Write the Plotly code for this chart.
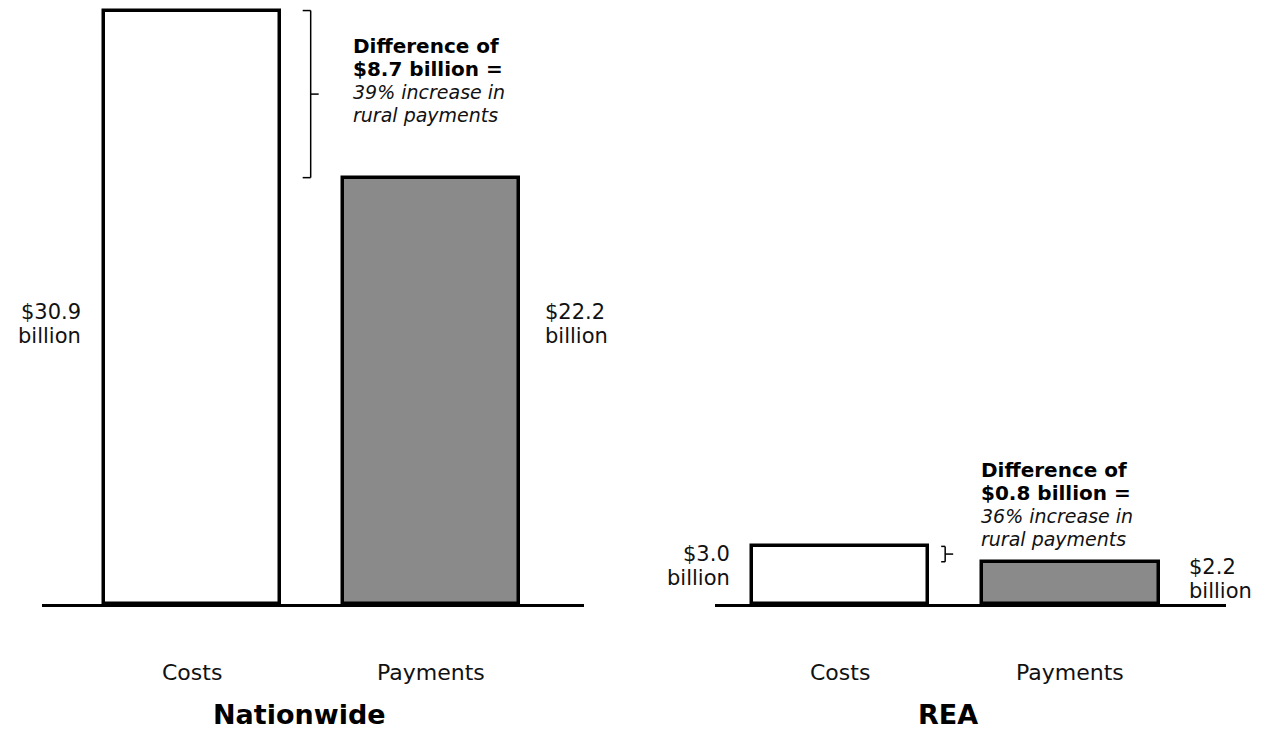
import plotly.graph_objects as go

# ---- data ----
categories = ["Costs", "Payments"]
nationwide_values = [30.9, 22.2]
rea_values = [3.0, 2.2]
panel_titles = ["Nationwide", "REA"]
value_labels_nat = ["$30.9", "$22.2"]
value_labels_rea = ["$3.0", "$2.2"]
note_nat = ["Difference of", "$8.7 billion =", "39% increase in", "rural payments"]
note_rea = ["Difference of", "$0.8 billion =", "36% increase in", "rural payments"]

FONT = "DejaVu Sans"
GRAY = "#8a8a8a"
W, H = 1261, 732

fig = go.Figure()
fig.add_trace(go.Bar(x=categories, y=nationwide_values, width=0.735,
                     marker=dict(color=["white", GRAY], line=dict(color="black", width=3.5)),
                     xaxis="x", yaxis="y", hoverinfo="skip"))
fig.add_trace(go.Bar(x=categories, y=rea_values, width=0.765,
                     marker=dict(color=["white", GRAY], line=dict(color="black", width=3.5)),
                     xaxis="x2", yaxis="y2", hoverinfo="skip"))

ybottom = (H - 604) / H
ymax = 31.45
axcommon = dict(showgrid=False, zeroline=False, showticklabels=False, ticks="",
                fixedrange=True)
fig.update_layout(
    width=W, height=H,
    margin=dict(l=0, r=0, t=0, b=0),
    paper_bgcolor="white", plot_bgcolor="rgba(0,0,0,0)",
    showlegend=False, bargap=0,
    xaxis=dict(domain=[42 / W, 584 / W], range=[-0.626, 1.637], showline=True,
               linecolor="black", linewidth=3, anchor="y", **axcommon),
    yaxis=dict(domain=[ybottom, 1], range=[0, ymax], showline=False, anchor="x", **axcommon),
    xaxis2=dict(domain=[715 / W, 1226 / W], range=[-0.542, 1.675], showline=True,
                linecolor="black", linewidth=3, anchor="y2", **axcommon),
    yaxis2=dict(domain=[ybottom, 1], range=[0, ymax], showline=False, anchor="x2", **axcommon),
)

anns = []
shapes = []


def bracket(xref, yref, top, bottom, vx, hook, tick):
    mid = (top + bottom) / 2
    base = dict(type="line", xref=xref, yref=yref, xsizemode="pixel", xanchor=0.5,
                line=dict(color="black", width=1.5))
    shapes.append(dict(base, x0=vx, x1=vx, y0=top, y1=bottom))
    shapes.append(dict(base, x0=vx - hook, x1=vx, y0=top, y1=top))
    shapes.append(dict(base, x0=vx - hook, x1=vx, y0=bottom, y1=bottom))
    shapes.append(dict(base, x0=vx, x1=vx + tick, y0=mid, y1=mid))


bracket("x", "y", nationwide_values[0], nationwide_values[1], -1, 8, 8)
bracket("x2", "y2", rea_values[0], rea_values[1], -10, 4, 8)


def note(xref, yref, yval, lines, xshift, yshifts):
    for i, (t, ys) in enumerate(zip(lines, yshifts)):
        if i < 2:
            txt, f = "<b>" + t + "</b>", dict(family=FONT, size=20, color="black")
        else:
            txt, f = "<i>" + t + "</i>", dict(family=FONT, size=19, color="#111")
        anns.append(dict(x=0.5, y=yval, xref=xref, yref=yref, text=txt, showarrow=False,
                         xanchor="left", yanchor="middle", xshift=xshift, yshift=ys,
                         borderpad=0, font=f))


note("x", "y", nationwide_values[0], note_nat, 40, [-35, -58, -81, -104])
note("x2", "y2", rea_values[1], note_rea, 25, [92, 69, 46, 23])


def value_label(xref, yref, xval, yval, lines, anchor, xshift, yshift):
    for i, t in enumerate(lines):
        anns.append(dict(x=xval, y=yval, xref=xref, yref=yref, text=t, showarrow=False,
                         xanchor=anchor, yanchor="middle", xshift=xshift,
                         yshift=yshift - i * 24, align="left", borderpad=0,
                         font=dict(family=FONT, size=21, color="#111")))


hw_n = 0.735 / 2
hw_r = 0.765 / 2
value_label("x", "y", 0 - hw_n, 15.2, [value_labels_nat[0], "billion"], "right", -22, 0)
value_label("x", "y", 1 + hw_n, 15.2, [value_labels_nat[1], "billion"], "left", 25, 0)
value_label("x2", "y2", 0 - hw_r, rea_values[0], [value_labels_rea[0], "billion"], "right", -21, -8)
value_label("x2", "y2", 1 + hw_r, rea_values[1], [value_labels_rea[1], "billion"], "left", 29, -5)

# category labels and panel titles
for xr in ["x", "x2"]:
    for c in categories:
        anns.append(dict(x=c, y=(H - 672) / H, xref=xr, yref="paper", text=c, showarrow=False,
                         xanchor="center", yanchor="middle",
                         font=dict(family=FONT, size=22, color="#111")))
for xr, t, xs in [("x", panel_titles[0], -12), ("x2", panel_titles[1], -7)]:
    anns.append(dict(x=0.5, y=(H - 714) / H, xref=xr, yref="paper", text="<b>" + t + "</b>",
                     showarrow=False, xanchor="center", yanchor="middle", xshift=xs,
                     borderpad=0, font=dict(family=FONT, size=27, color="black")))

fig.update_layout(annotations=anns, shapes=shapes)
fig.write_html("out.html", config={"displayModeBar": False})
